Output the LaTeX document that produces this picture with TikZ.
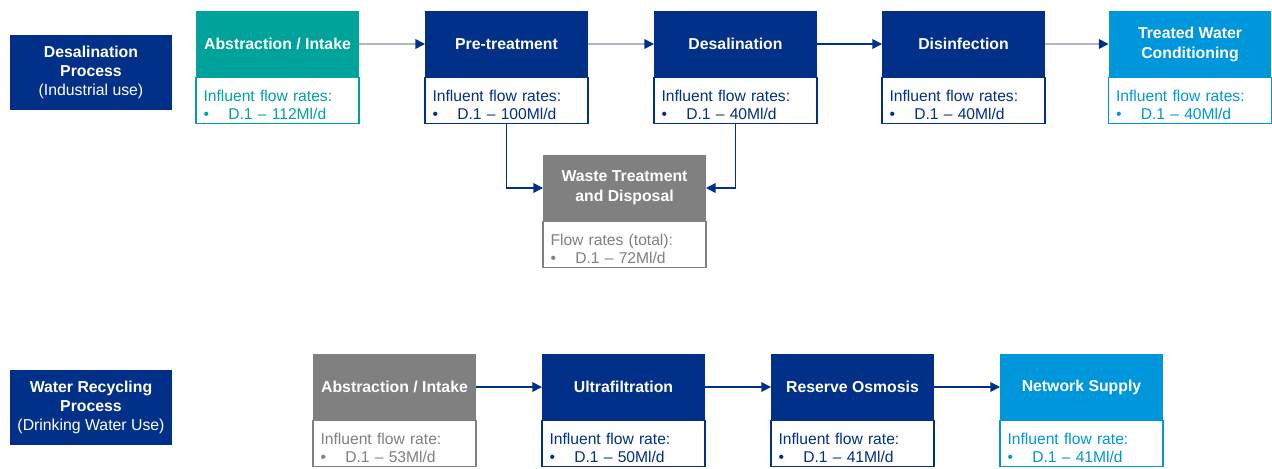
\documentclass[tikz,border=0pt]{standalone}
\usepackage{fontspec}
\setmainfont{Liberation Sans}
\usepackage{xcolor}
\usepackage{tikz}
\usetikzlibrary{positioning,arrows.meta}

\definecolor{navy}{RGB}{0,48,135}
\definecolor{teal}{RGB}{0,163,155}
\definecolor{wgray}{RGB}{128,128,128}
\definecolor{sky}{RGB}{0,150,219}
\definecolor{linegray}{RGB}{176,183,196}

\newcommand{\rate}[2]{\rule{0pt}{11.2pt}#1\\\textbullet\hspace{11pt}D.1 – #2}

\begin{document}
\begin{tikzpicture}[x=0.02cm,y=-0.02cm,
    head/.style={fill=#1,text=white,font=\bfseries\fontsize{9}{11.4}\selectfont,align=center,
        minimum width=3.26cm,minimum height=1.34cm,inner sep=0pt,outer sep=0pt},
    body/.style={draw=#1,line width=0.9pt,fill=white,text=#1,font=\fontsize{8.9}{10.2}\selectfont,
        align=left,text width=2.96cm,minimum height=0.92cm,inner xsep=0.15cm,inner ysep=0pt,outer sep=0pt},
    process/.style={fill=navy,text=white,font=\fontsize{9}{10.8}\selectfont,align=center,
        minimum width=3.24cm,minimum height=1.5cm,inner sep=0pt},
    flow/.style={draw=linegray,line width=0.9pt,-{Triangle[length=5.5pt,width=5.5pt,color=navy]}},
    link/.style={draw=navy,line width=0.8pt,-{Triangle[length=5.5pt,width=5.5pt]}}]
    \useasboundingbox (0,0) rectangle (1272,468);

    % desalination process
    \node[process] (desalproc) at (91,72.5) {\textbf{Desalination}\\\textbf{Process}\\(Industrial use)};

    \node[head=teal] (abstr) at (277.5,44) {Abstraction / Intake};
    \node[body=teal,below=0pt of abstr] (abstr-b) {\rate{Influent flow rates:}{112Ml/d}};
    \node[head=navy] (pretreat) at (506.5,44) {Pre-treatment};
    \node[body=navy,below=0pt of pretreat] (pretreat-b) {\rate{Influent flow rates:}{100Ml/d}};
    \node[head=navy] (desal) at (735.5,44) {Desalination};
    \node[body=navy,below=0pt of desal] (desal-b) {\rate{Influent flow rates:}{40Ml/d}};
    \node[head=navy] (disinf) at (963.5,44) {Disinfection};
    \node[body=navy,below=0pt of disinf] (disinf-b) {\rate{Influent flow rates:}{40Ml/d}};
    \node[head=sky] (cond) at (1190,44) {Treated Water\\Conditioning};
    \node[body=sky,below=0pt of cond] (cond-b) {\rate{Influent flow rates:}{40Ml/d}};

    \node[head=wgray] (waste) at (624.5,188) {Waste Treatment\\and Disposal};
    \node[body=wgray,below=0pt of waste] (waste-b) {\rate{Flow rates (total):}{72Ml/d}};

    \draw[flow] (abstr) -- (pretreat);
    \draw[flow] (pretreat) -- (desal);
    \draw[link] (desal) -- (disinf);
    \draw[flow] (disinf) -- (cond);
    \draw[link] (pretreat-b.south) |- (waste.west);
    \draw[link] (desal-b.south) |- (waste.east);

    % water recycling process
    \node[process] (recproc) at (91,407) {\textbf{Water Recycling}\\\textbf{Process}\\(Drinking Water Use)};

    \node[head=wgray] (rabstr) at (394.5,387) {Abstraction / Intake};
    \node[body=wgray,below=0pt of rabstr] (rabstr-b) {\rate{Influent flow rate:}{53Ml/d}};
    \node[head=navy] (ultra) at (623.5,387) {Ultrafiltration};
    \node[body=navy,below=0pt of ultra] (ultra-b) {\rate{Influent flow rate:}{50Ml/d}};
    \node[head=navy] (osmosis) at (852.5,387) {Reserve Osmosis};
    \node[body=navy,below=0pt of osmosis] (osmosis-b) {\rate{Influent flow rate:}{41Ml/d}};
    \node[head=sky] (supply) at (1081.5,387) {Network Supply};
    \node[body=sky,below=0pt of supply] (supply-b) {\rate{Influent flow rate:}{41Ml/d}};

    \draw[link] (rabstr) -- (ultra);
    \draw[link] (ultra) -- (osmosis);
    \draw[link] (osmosis) -- (supply);
\end{tikzpicture}
\end{document}
